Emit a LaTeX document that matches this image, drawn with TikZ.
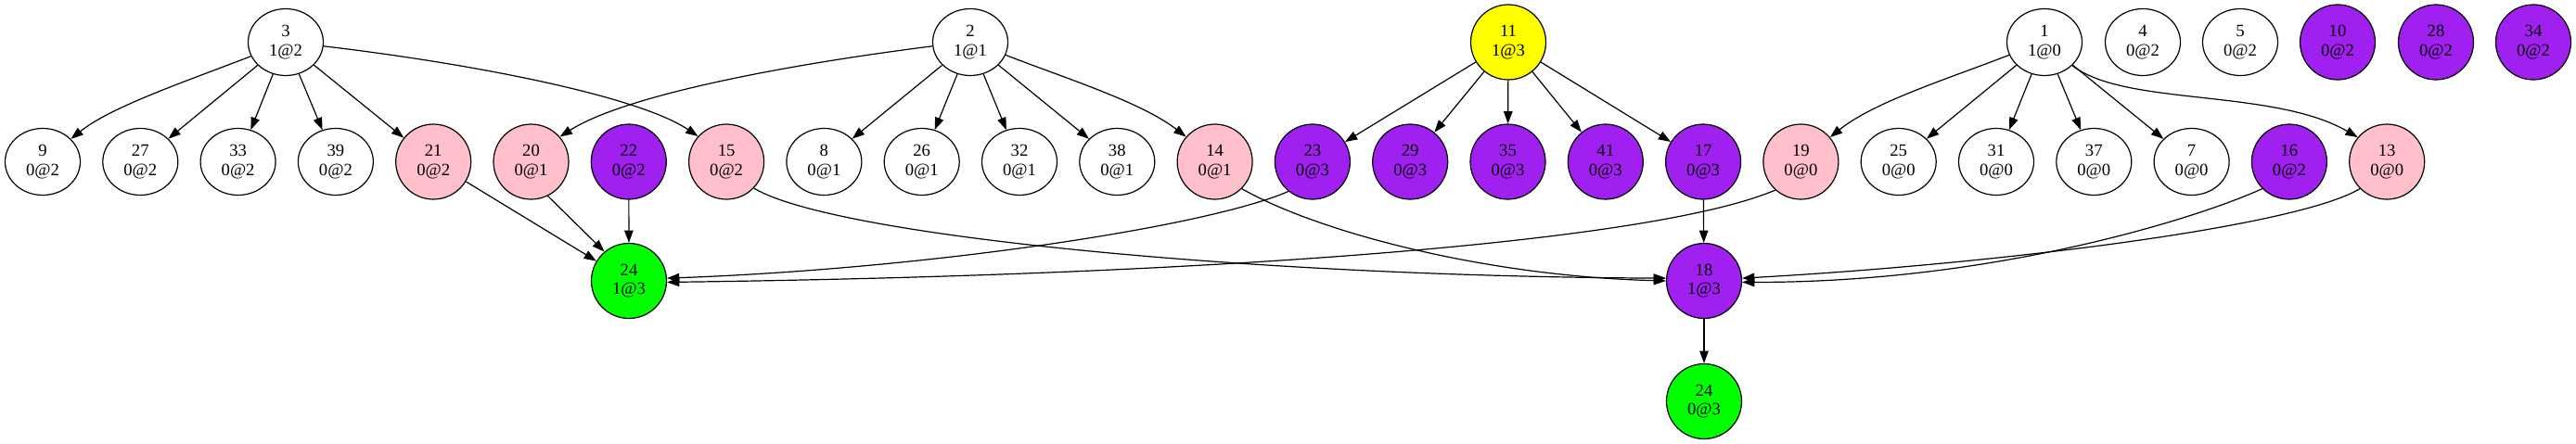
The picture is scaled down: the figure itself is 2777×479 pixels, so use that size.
\documentclass[tikz,border=0pt]{standalone}
\usepackage{fontspec}
\setmainfont{Liberation Serif}
\usetikzlibrary{shapes.geometric,arrows.meta}
\definecolor{gvpurple}{HTML}{A020F0}
\definecolor{gvpink}{HTML}{FFC0CB}
\definecolor{gvgreen}{HTML}{00FF00}
\definecolor{gvyellow}{HTML}{FFFF00}
\begin{document}
\begin{tikzpicture}[x=1pt,y=-1pt,
  base/.style={draw=black, line width=1.2pt, inner sep=0pt, align=center,
    font=\fontsize{18.67}{20.5}\selectfont},
  wnode/.style={base, ellipse, minimum width=81pt, minimum height=72pt, fill=white},
  cnode/.style={base, circle, minimum size=81pt},
  pinkn/.style={cnode, fill=gvpink},
  purpn/.style={cnode, fill=gvpurple},
  greenn/.style={cnode, fill=gvgreen},
  yelln/.style={cnode, fill=gvyellow},
  conn/.style={draw=black, line width=1.2pt, -{Triangle[length=13.3pt,width=9.5pt]}}
]
\useasboundingbox (0,0) rectangle (2777,479);
% row 1
\node[wnode] (n3) at (308,45.5) {3\\1@2};
\node[wnode] (n2) at (1046,45.5) {2\\1@1};
\node[yelln] (n11) at (1626,45.5) {11\\1@3};
\node[wnode] (n1) at (2204,45.5) {1\\1@0};
\node[wnode] (n4) at (2310,45.5) {4\\0@2};
\node[wnode] (n5) at (2415,45.5) {5\\0@2};
\node[purpn] (n10) at (2520,45.5) {10\\0@2};
\node[purpn] (n28) at (2626,45.5) {28\\0@2};
\node[purpn] (n34) at (2731,45.5) {34\\0@2};
% row 2
\node[wnode] (n9) at (46,174.5) {9\\0@2};
\node[wnode] (n27) at (151.3,174.5) {27\\0@2};
\node[wnode] (n33) at (256.6,174.5) {33\\0@2};
\node[wnode] (n39) at (361.9,174.5) {39\\0@2};
\node[pinkn] (n21) at (467.2,174.5) {21\\0@2};
\node[pinkn] (n20) at (572.5,174.5) {20\\0@1};
\node[purpn] (n22) at (677.8,174.5) {22\\0@2};
\node[pinkn] (n15) at (783.1,174.5) {15\\0@2};
\node[wnode] (n8) at (888.4,174.5) {8\\0@1};
\node[wnode] (n26) at (993.7,174.5) {26\\0@1};
\node[wnode] (n32) at (1099,174.5) {32\\0@1};
\node[wnode] (n38) at (1204.3,174.5) {38\\0@1};
\node[pinkn] (n14) at (1309.6,174.5) {14\\0@1};
\node[purpn] (n23) at (1414.9,174.5) {23\\0@3};
\node[purpn] (n29) at (1520.2,174.5) {29\\0@3};
\node[purpn] (n35) at (1625.5,174.5) {35\\0@3};
\node[purpn] (n41) at (1730.8,174.5) {41\\0@3};
\node[purpn] (n17) at (1836.1,174.5) {17\\0@3};
\node[pinkn] (n19) at (1941.4,174.5) {19\\0@0};
\node[wnode] (n25) at (2046.7,174.5) {25\\0@0};
\node[wnode] (n31) at (2152,174.5) {31\\0@0};
\node[wnode] (n37) at (2257.3,174.5) {37\\0@0};
\node[wnode] (n7) at (2362.6,174.5) {7\\0@0};
\node[purpn] (n16) at (2467.9,174.5) {16\\0@2};
\node[pinkn] (n13) at (2573.2,174.5) {13\\0@0};
% row 3 and 4
\node[greenn] (n24a) at (678,303) {24\\1@3};
\node[purpn] (n18) at (1837,303) {18\\1@3};
\node[greenn] (n24b) at (1837,433) {24\\0@3};
% edges from 3
\draw[conn] (n3.202) .. controls (200,88) and (120,115) .. (n9.39);
\draw[conn] (n3) -- (n27);
\draw[conn] (n3) -- (n33);
\draw[conn] (n3) -- (n39);
\draw[conn] (n3) -- (n21);
\draw[conn] (n3.354) .. controls (520,70) and (690,105) .. (n15.138);
% edges from 2
\draw[conn] (n2.186) .. controls (830,72) and (670,105) .. (n20.41);
\draw[conn] (n2) -- (n8);
\draw[conn] (n2) -- (n26);
\draw[conn] (n2) -- (n32);
\draw[conn] (n2) -- (n38);
\draw[conn] (n2.340) .. controls (1150,85) and (1230,110) .. (n14.139);
% edges from 11
\draw[conn] (n11) -- (n23);
\draw[conn] (n11) -- (n29);
\draw[conn] (n11) -- (n35);
\draw[conn] (n11) -- (n41);
\draw[conn] (n11) -- (n17);
% edges from 1
\draw[conn] (n1.200) .. controls (2100,85) and (2020,110) .. (n19.40);
\draw[conn] (n1) -- (n25);
\draw[conn] (n1) -- (n31);
\draw[conn] (n1) -- (n37);
\draw[conn] (n1) -- (n7);
\draw[conn] (n1.320) .. controls (2290,115) and (2450,95) .. (n13.140);
% into 24 (1@3)
\draw[conn] (n21) -- (n24a);
\draw[conn] (n20.296) -- (n24a.130);
\draw[conn] (n22) -- (n24a);
\draw[conn] (n23.231) .. controls (1300,245) and (1000,290) .. (n24a.4);
\draw[conn] (n19.228) .. controls (1780,262) and (1300,297) .. (n24a.358);
% into 18
\draw[conn] (n15.316) .. controls (900,255) and (1350,298) .. (n18.176);
\draw[conn] (n14.315) .. controls (1420,250) and (1600,298) .. (n18.180);
\draw[conn] (n17) -- (n18);
\draw[conn] (n16.225) .. controls (2370,235) and (2150,305) .. (n18.358);
\draw[conn] (n13.225) .. controls (2475,245) and (2150,285) .. (n18.4);
\draw[conn] (n18) -- (n24b);
\end{tikzpicture}
\end{document}
